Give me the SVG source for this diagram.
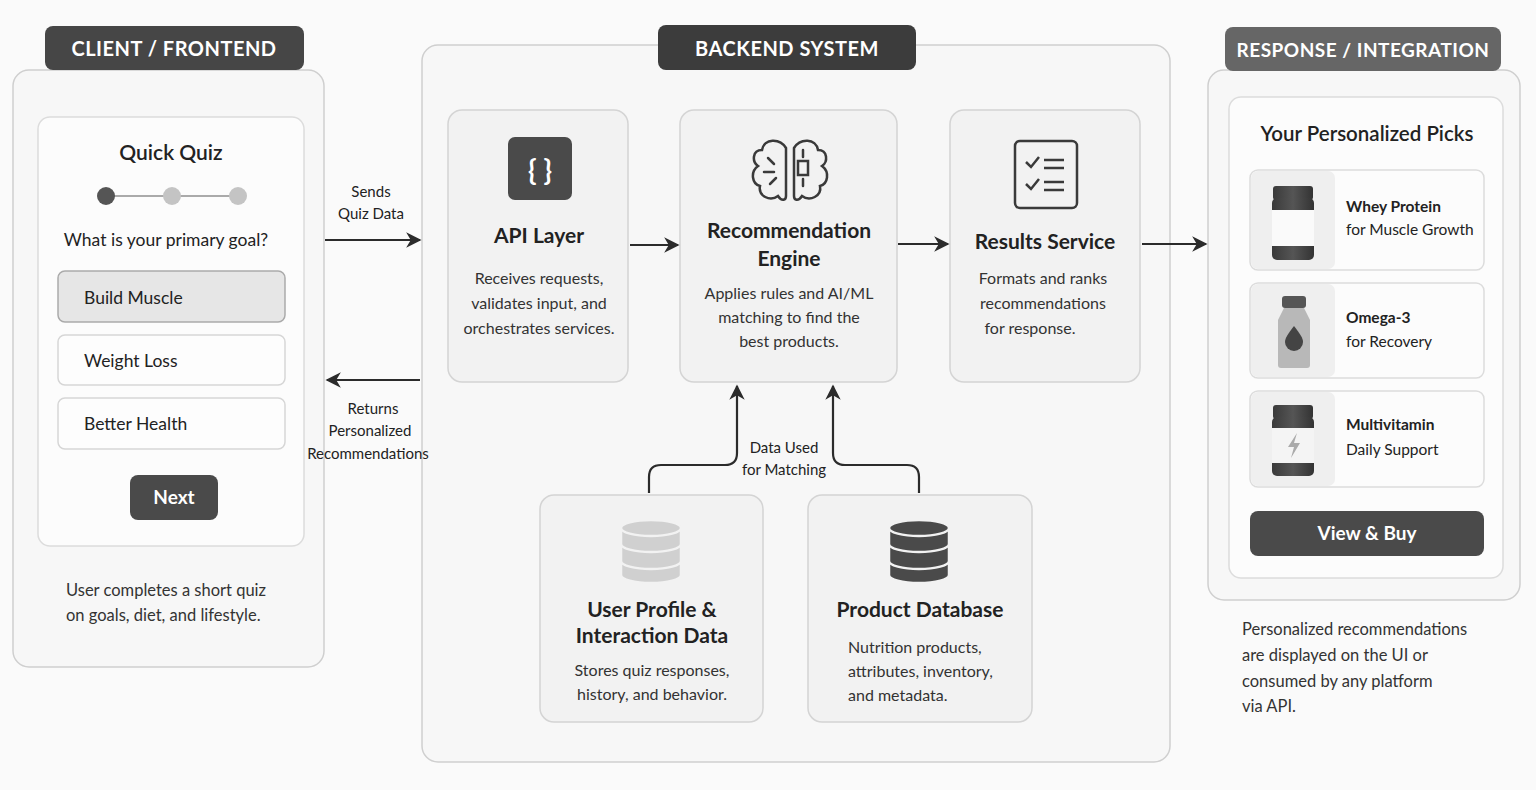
<svg xmlns="http://www.w3.org/2000/svg" width="1536" height="790" viewBox="0 0 1536 790">
<defs>
<marker id="ah" viewBox="0 0 10 10" refX="9" refY="5" markerWidth="7" markerHeight="7" orient="auto-start-reverse"><path d="M0,0 L10,5 L0,10 L3,5 z" fill="#2b2b2b"/></marker>
<linearGradient id="bot" x1="0" x2="1"><stop offset="0" stop-color="#3a3a3a"/><stop offset="0.5" stop-color="#555"/><stop offset="1" stop-color="#333"/></linearGradient>
</defs>
<style>
text{font-family:Lato,"Liberation Sans",sans-serif;fill:#222}
.hdr{font-size:20px;font-weight:bold;fill:#fff;text-anchor:middle;letter-spacing:0.5px}
.panel{fill:#f7f7f7;stroke:#cfcfcf;stroke-width:1.5}
.card{fill:#f2f2f2;stroke:#d4d4d4;stroke-width:1.5}
.white{fill:#fcfcfc;stroke:#dcdcdc;stroke-width:1.5}
.t{font-size:21px;font-weight:bold;text-anchor:middle}
.d{font-size:16px;text-anchor:middle;fill:#333}
.l{font-size:15px;text-anchor:middle;fill:#222}
.c{font-size:16.5px;fill:#333}
.conn{stroke:#2b2b2b;stroke-width:2.2;fill:none;marker-end:url(#ah)}
</style>
<rect width="1536" height="790" fill="#fafafa"/>

<g id="client">
<rect class="panel" x="13" y="70" width="311" height="597" rx="16"/>
<rect x="45" y="26" width="259" height="44" rx="8" fill="#464646"/>
<text class="hdr" x="174" y="56">CLIENT / FRONTEND</text>
<rect class="white" x="38" y="117" width="266" height="429" rx="12"/>
<text x="171" y="160" font-size="21" font-weight="600" text-anchor="middle">Quick Quiz</text>
<line x1="106" y1="196" x2="238" y2="196" stroke="#aaa" stroke-width="2"/>
<circle cx="106" cy="196" r="9" fill="#555"/>
<circle cx="172" cy="196" r="9" fill="#c4c4c4"/>
<circle cx="238" cy="196" r="9" fill="#c4c4c4"/>
<text x="166" y="246" font-size="17.5" text-anchor="middle">What is your primary goal?</text>
<rect x="58" y="271" width="227" height="51" rx="7" fill="#e6e6e6" stroke="#aaa" stroke-width="1.5"/>
<text x="84" y="304" font-size="17.5">Build Muscle</text>
<rect x="58" y="335" width="227" height="50" rx="7" fill="#fdfdfd" stroke="#d6d6d6" stroke-width="1.5"/>
<text x="84" y="367" font-size="17.5">Weight Loss</text>
<rect x="58" y="398" width="227" height="51" rx="7" fill="#fdfdfd" stroke="#d6d6d6" stroke-width="1.5"/>
<text x="84" y="430" font-size="17.5">Better Health</text>
<rect x="130" y="475" width="88" height="45" rx="8" fill="#4a4a4a"/>
<text x="174" y="504" font-size="19" font-weight="bold" text-anchor="middle" style="fill:#fff">Next</text>
<text class="c" x="66" y="596">User completes a short quiz</text>
<text class="c" x="66" y="621">on goals, diet, and lifestyle.</text>
</g>

<g id="backend">
<rect class="panel" x="422" y="45" width="748" height="717" rx="16"/>
<rect x="658" y="25" width="258" height="45" rx="8" fill="#3c3c3c"/>
<text class="hdr" x="787" y="56">BACKEND SYSTEM</text>
</g>

<g id="api">
<rect class="card" x="448" y="110" width="180" height="272" rx="14"/>
<rect x="508" y="137" width="64" height="63" rx="7" fill="#4a4a4a"/>
<text x="540" y="180" font-size="28" font-weight="bold" text-anchor="middle" style="fill:#fff">{ }</text>
<text class="t" x="539" y="243">API Layer</text>
<text class="d" x="539" y="284">Receives requests,</text>
<text class="d" x="539" y="309">validates input, and</text>
<text class="d" x="539" y="334">orchestrates services.</text>
</g>

<g id="engine">
<rect class="card" x="680" y="110" width="217" height="272" rx="14"/>
<g fill="none" stroke="#3a3a3a" stroke-width="2.5" stroke-linecap="round">
<path d="M786,148 C780,138 764,138 762,150 C752,150 752,162 758,166 C750,172 752,184 760,186 C758,196 770,202 778,196 C782,202 786,200 786,196 Z"/>
<path d="M794,148 C800,138 816,138 818,150 C828,150 828,162 822,166 C830,172 828,184 820,186 C822,196 810,202 802,196 C798,202 794,200 794,196 Z"/>
<rect x="798" y="161" width="10" height="14"/>
<line x1="803" y1="150" x2="803" y2="157"/><line x1="803" y1="179" x2="803" y2="186"/>
<path d="M768,158 l6,6 M764,172 h10 M770,184 l6,-6"/>
</g>
<text class="t" x="789" y="238">Recommendation</text>
<text class="t" x="789" y="266">Engine</text>
<text class="d" x="789" y="299">Applies rules and AI/ML</text>
<text class="d" x="789" y="323">matching to find the</text>
<text class="d" x="789" y="347">best products.</text>
</g>

<g id="results">
<rect class="card" x="950" y="110" width="190" height="272" rx="14"/>
<rect x="1015" y="141" width="62" height="67" rx="5" fill="none" stroke="#3a3a3a" stroke-width="2.5"/>
<g fill="none" stroke="#3a3a3a" stroke-width="2.5"><path d="M1026,162 l5,5 l8,-10 M1026,184 l5,5 l8,-10"/><path d="M1044,160 h20 M1044,168 h20 M1044,182 h20 M1044,190 h20"/></g>
<text class="t" x="1045" y="249">Results Service</text>
<text class="d" x="1043" y="284">Formats and ranks</text>
<text class="d" x="1043" y="309">recommendations</text>
<text class="d" x="1030" y="334">for response.</text>
</g>

<g id="userdb">
<rect class="card" x="540" y="495" width="223" height="227" rx="14"/>
<g fill="#d0d0d0" stroke="#f2f2f2" stroke-width="2.5">
<path d="M621,563 v12 a30,8 0 0 0 60,0 v-12 z"/><path d="M621,545 v16 a30,8 0 0 0 60,0 v-16 z"/><path d="M621,528 v16 a30,8 0 0 0 60,0 v-16 z"/><ellipse cx="651" cy="528" rx="30" ry="8"/>
</g>
<text class="t" x="652" y="617">User Profile &amp;</text>
<text class="t" x="652" y="643">Interaction Data</text>
<text class="d" x="652" y="676">Stores quiz responses,</text>
<text class="d" x="652" y="700">history, and behavior.</text>
</g>

<g id="productdb">
<rect class="card" x="808" y="495" width="224" height="227" rx="14"/>
<g fill="#4a4a4a" stroke="#f2f2f2" stroke-width="2.5">
<path d="M889,563 v12 a30,8 0 0 0 60,0 v-12 z"/><path d="M889,545 v16 a30,8 0 0 0 60,0 v-16 z"/><path d="M889,528 v16 a30,8 0 0 0 60,0 v-16 z"/><ellipse cx="919" cy="528" rx="30" ry="8"/>
</g>
<text class="t" x="920" y="617">Product Database</text>
<text class="d" x="848" y="653" style="text-anchor:start">Nutrition products,</text>
<text class="d" x="848" y="677" style="text-anchor:start">attributes, inventory,</text>
<text class="d" x="848" y="701" style="text-anchor:start">and metadata.</text>
</g>

<g id="response">
<rect class="panel" x="1208" y="70" width="312" height="530" rx="16"/>
<rect x="1225" y="27" width="276" height="44" rx="8" fill="#666"/>
<text class="hdr" x="1363" y="57" style="font-size:19px">RESPONSE / INTEGRATION</text>
<rect class="white" x="1229" y="97" width="274" height="481" rx="12"/>
<text x="1367" y="141" font-size="20.5" font-weight="600" text-anchor="middle">Your Personalized Picks</text>
<rect class="white" x="1250" y="170" width="234" height="100" rx="8"/>
<rect x="1251" y="171" width="84" height="98" rx="7" fill="#efefef"/>
<rect x="1273" y="186" width="40" height="14" rx="3" fill="url(#bot)"/>
<rect x="1272" y="198" width="42" height="62" rx="5" fill="url(#bot)"/>
<rect x="1272" y="210" width="42" height="36" fill="#fafafa"/>
<text x="1346" y="212" font-size="15.5" font-weight="bold">Whey Protein</text>
<text x="1346" y="235" font-size="15.5">for Muscle Growth</text>
<rect class="white" x="1250" y="283" width="234" height="95" rx="8"/>
<rect x="1251" y="284" width="84" height="93" rx="7" fill="#efefef"/>
<rect x="1282" y="296" width="24" height="12" rx="3" fill="#555"/>
<path d="M1284,308 h20 l6,12 v45 a3,3 0 0 1 -3,3 h-26 a3,3 0 0 1 -3,-3 v-45 z" fill="#b8b8b8"/>
<path d="M1294,326 c-6,8 -9,12 -9,16 a9,9 0 0 0 18,0 c0,-4 -3,-8 -9,-16 z" fill="#444"/>
<text x="1346" y="323" font-size="15.5" font-weight="bold">Omega-3</text>
<text x="1346" y="347" font-size="15.5">for Recovery</text>
<rect class="white" x="1250" y="391" width="234" height="96" rx="8"/>
<rect x="1251" y="392" width="84" height="94" rx="7" fill="#efefef"/>
<rect x="1273" y="405" width="40" height="14" rx="3" fill="url(#bot)"/>
<rect x="1272" y="417" width="42" height="59" rx="5" fill="url(#bot)"/>
<rect x="1272" y="428" width="42" height="35" fill="#f4f4f4"/>
<path d="M1297,433 l-9,14 h6 l-3,11 l9,-15 h-6 z" fill="#aaa"/>
<text x="1346" y="430" font-size="15.5" font-weight="bold">Multivitamin</text>
<text x="1346" y="455" font-size="15.5">Daily Support</text>
<rect x="1250" y="511" width="234" height="45" rx="8" fill="#4a4a4a"/>
<text x="1367" y="540" font-size="19" font-weight="bold" text-anchor="middle" style="fill:#fff">View &amp; Buy</text>
<text class="c" x="1242" y="635">Personalized recommendations</text>
<text class="c" x="1242" y="661">are displayed on the UI or</text>
<text class="c" x="1242" y="687">consumed by any platform</text>
<text class="c" x="1242" y="712">via API.</text>
</g>

<g id="connectors">
<line class="conn" x1="325" y1="240" x2="420" y2="240"/>
<line class="conn" x1="420" y1="380" x2="327" y2="380"/>
<line class="conn" x1="630" y1="245" x2="678" y2="245"/>
<line class="conn" x1="898" y1="244" x2="948" y2="244"/>
<line class="conn" x1="1142" y1="244" x2="1206" y2="244"/>
<path class="conn" d="M649,493 V477 Q649,465 661,465 H725 Q737,465 737,453 V386"/>
<path class="conn" d="M919,493 V477 Q919,465 907,465 H845 Q833,465 833,453 V386"/>
<text class="l" x="371" y="197">Sends</text>
<text class="l" x="371" y="219">Quiz Data</text>
<text class="l" x="373" y="414">Returns</text>
<text class="l" x="370" y="436">Personalized</text>
<text class="l" x="368" y="459">Recommendations</text>
<text class="l" x="784" y="453">Data Used</text>
<text class="l" x="784" y="475">for Matching</text>
</g>
</svg>
